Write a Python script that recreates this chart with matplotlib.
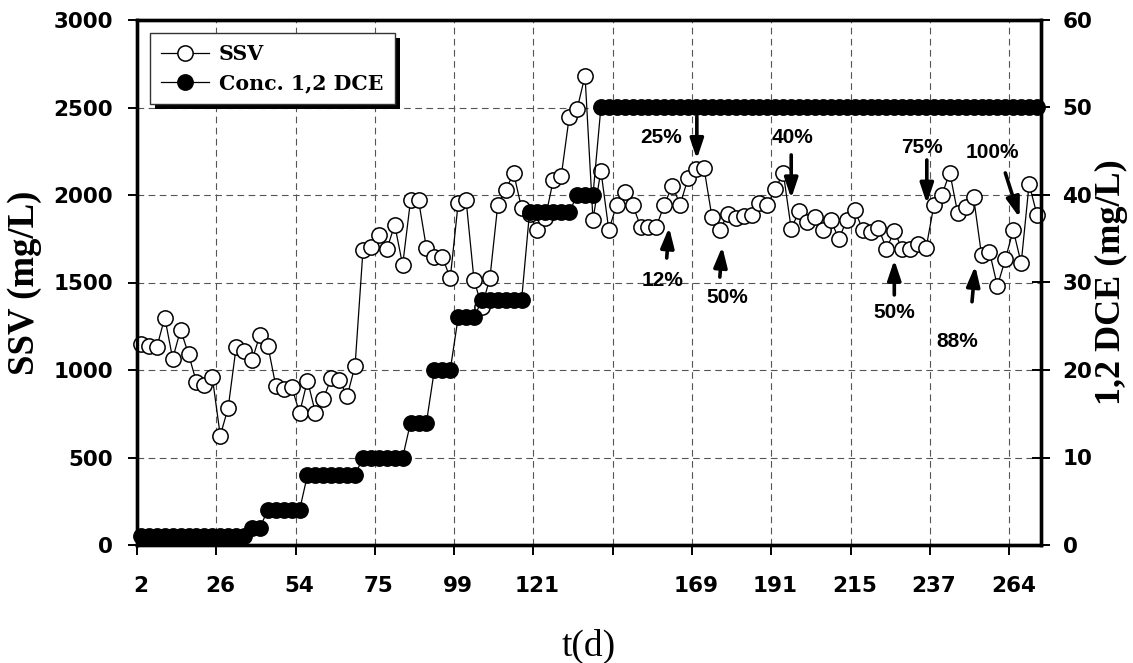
import matplotlib
matplotlib.use("Agg")
import matplotlib.pyplot as plt
import numpy as np
from matplotlib.patches import Rectangle
from matplotlib.transforms import IdentityTransform

# ---------------- data ----------------
ssv = [1150, 1140, 1130, 1300, 1065, 1230, 1090, 930, 915, 958,
       625, 785, 1130, 1110, 1055, 1200, 1140, 910, 890, 905,
       755, 940, 755, 835, 955, 945, 850, 1025, 1686, 1705,
       1771, 1690, 1829, 1600, 1971, 1971, 1697, 1648, 1648, 1524,
       1952, 1971, 1514, 1362, 1524, 1945, 2030, 2124, 1924, 1890,
       1800, 1870, 2086, 2109, 2444, 2491, 2682, 1860, 2139, 1800,
       1945, 2020, 1945, 1820, 1820, 1820, 1945, 2052, 1945, 2098,
       2148, 2155, 1876, 1800, 1890, 1867, 1878, 1886, 1954, 1943,
       2035, 2126, 1807, 1908, 1848, 1876, 1800, 1859, 1747, 1857,
       1916, 1802, 1790, 1812, 1693, 1793, 1690, 1690, 1718, 1695,
       1943, 2000, 2128, 1895, 1933, 1987, 1657, 1676, 1480, 1633,
       1800, 1610, 2063, 1886]

dce = [1, 1, 1, 1, 1, 1, 1, 1, 1, 1,
       1, 1, 1, 1, 2, 2, 4, 4, 4, 4,
       4, 8, 8, 8, 8, 8, 8, 8, 10, 10,
       10, 10, 10, 10, 14, 14, 14, 20, 20, 20,
       26, 26, 26, 28, 28, 28, 28, 28, 28, 38,
       38, 38, 38, 38, 38, 40, 40, 40, 50, 50,
       50, 50, 50, 50, 50, 50, 50, 50, 50, 50,
       50, 50, 50, 50, 50, 50, 50, 50, 50, 50,
       50, 50, 50, 50, 50, 50, 50, 50, 50, 50,
       50, 50, 50, 50, 50, 50, 50, 50, 50, 50,
       50, 50, 50, 50, 50, 50, 50, 50, 50, 50,
       50, 50, 50, 50]

day_labels = ['2', '26', '54', '75', '99', '121', '', '169', '191', '215', '237', '264']

# annotations: (text, text_x, text_y, tail_x, tail_y, head_x, head_y) in (index, SSV) units
notes = [
    ('25%', 65.6, 2326, 70.1, 2447, 70.1, 2205),
    ('12%', 65.8, 1514, 66.3, 1640, 66.6, 1815),
    ('50%', 74.0, 1417, 73.0, 1531, 73.3, 1705),
    ('40%', 82.1, 2331, 82.0, 2229, 82.0, 1980),
    ('75%', 98.5, 2269, 99.1, 2200, 99.1, 1950),
    ('100%', 107.4, 2240, 109.0, 2126, 110.8, 1870),
    ('50%', 95.0, 1331, 95.0, 1429, 95.0, 1630),
    ('88%', 103.0, 1160, 104.8, 1390, 105.2, 1595),
]

# ---------------- figure ----------------
W, H = 1133, 663
fig = plt.figure(figsize=(W / 100, H / 100), dpi=100)
ax = fig.add_axes([137 / W, 1 - 545 / H, 904 / W, 525 / H])
ax2 = ax.twinx()

n = len(ssv)
x = np.arange(n)

l1, = ax.plot(x, ssv, '-o', color='black', lw=0.9, mfc='white', mec='black',
              ms=11, mew=1.1, label='SSV', clip_on=False, zorder=3)
l2, = ax2.plot(x, dce, '-o', color='black', lw=0.9, mfc='black', mec='black',
               ms=11, mew=1.1, label='Conc. 1,2 DCE', clip_on=False, zorder=3)

ax.set_xlim(-0.5, n - 0.5)
ax.set_ylim(0, 3000)
ax2.set_ylim(0, 60)
ax.set_yticks(np.arange(0, 3001, 500))
ax2.set_yticks(np.arange(0, 61, 10))

bounds = np.arange(-0.5, n - 0.5, 10)
centers = np.arange(0, 10 * len(day_labels), 10)
ax.set_xticks(bounds)
ax.set_xticklabels([''] * len(bounds))
ax.set_xticks(centers, minor=True)
ax.set_xticklabels(day_labels, minor=True)

for lab in ax.get_xticklabels(minor=True) + ax.get_yticklabels() + ax2.get_yticklabels():
    lab.set_fontfamily('DejaVu Sans')
    lab.set_fontweight('bold')
    lab.set_fontsize(15.5)

ax.tick_params(axis='x', which='major', direction='out', length=7, width=1.4)
ax.tick_params(axis='x', which='minor', length=0, pad=22)
ax.tick_params(axis='y', which='major', direction='out', length=6.5, width=1.4, pad=11)
ax2.tick_params(axis='y', which='major', direction='inout', length=13, width=1.4, pad=9)

ax.grid(True, which='major', axis='both', color='#555555', lw=0.8, dashes=(6, 4))

for a in (ax, ax2):
    for sp in a.spines.values():
        sp.set_linewidth(2.4)
        sp.set_color('black')

# axis labels
ax.set_ylabel('SSV (mg/L)', fontfamily='Liberation Serif', fontweight='bold', fontsize=26.5)
ax.yaxis.set_label_coords((25 - 137) / 904, 0.5)
ax.yaxis.label.set_va('center')
ax2.set_ylabel('1,2 DCE (mg/L)', fontfamily='Liberation Serif', fontweight='bold',
               fontsize=26, rotation=90)
ax2.yaxis.set_label_coords((1111 - 137) / 904, 0.5)
ax2.yaxis.label.set_va('center')
ax.set_xlabel('t(d)', fontfamily='Liberation Serif', fontsize=27)
ax.xaxis.set_label_coords(0.5, (545 - 646) / 525)
ax.xaxis.label.set_va('center')

# annotations
for txt, tx, ty, ax0, ay0, hx, hy in notes:
    ax2.text(tx, ty, txt, transform=ax.transData, ha='center', va='center',
             fontfamily='Liberation Sans', fontweight='bold', fontsize=15, zorder=6)
    ax2.annotate('', xy=(hx, hy), xytext=(ax0, ay0), xycoords=ax.transData,
                 textcoords=ax.transData,
                 arrowprops=dict(arrowstyle='-|>,head_length=0.6,head_width=0.2',
                                 lw=2.6, color='black', shrinkA=0, shrinkB=0,
                                 mutation_scale=20), zorder=6)

# legend
leg = ax2.legend(handles=[l1, l2], loc='upper left',
                 bbox_to_anchor=((150 - 137) / 904, (545 - 33) / 525),
                 borderaxespad=0, fancybox=False, framealpha=1, edgecolor='#333333',
                 prop=dict(family='DejaVu Serif', weight='bold', size=14.8),
                 handlelength=2.3, handletextpad=0.5, borderpad=0.55,
                 labelspacing=0.42)
leg.get_frame().set_linewidth(1.0)
leg.set_zorder(8)

fig.canvas.draw()
bb = leg.get_frame().get_window_extent(fig.canvas.get_renderer())
shadow = Rectangle((bb.x0 + 5, bb.y0 - 5), bb.width, bb.height,
                   transform=IdentityTransform(), facecolor='black', edgecolor='none',
                   zorder=7.9, clip_on=False)
ax2.add_artist(shadow)
shadow.set_transform(IdentityTransform())
shadow.set_clip_on(False)

fig.savefig('out.png', dpi=100)
